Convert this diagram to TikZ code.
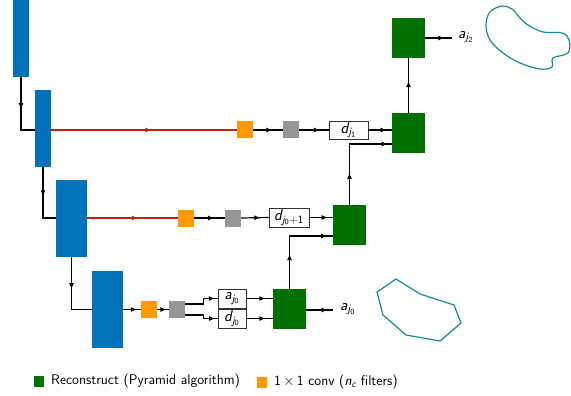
\documentclass[tikz,border=0pt]{standalone}
\usetikzlibrary{arrows.meta,decorations.markings,calc}
\renewcommand\familydefault{\sfdefault}
\newcommand{\wsub}[2]{{\slshape #1}\textsubscript{{\slshape j}\textsubscript{#2}}}
\definecolor{cblue}{RGB}{0,114,187}
\definecolor{corange}{RGB}{255,153,0}
\definecolor{cgray}{RGB}{150,150,150}
\definecolor{cgreen}{RGB}{0,112,0}
\definecolor{cred}{RGB}{196,32,16}
\definecolor{cteal}{RGB}{20,140,145}
\tikzset{
  bluebox/.style={fill=cblue,draw=none,inner sep=0pt},
  orbox/.style={fill=corange,draw=none,inner sep=0pt,minimum width=16,minimum height=17},
  grbox/.style={fill=cgray,draw=none,inner sep=0pt,minimum width=16,minimum height=17},
  gnbox/.style={fill=cgreen,draw=none,inner sep=0pt,minimum width=33,minimum height=40},
  coefbox/.style={draw=black!80,fill=white,line width=0.8pt,inner sep=0pt,minimum height=19,font=\fontsize{16}{18}\selectfont},
  lbl/.style={inner sep=0pt,anchor=west,font=\fontsize{14}{16}\selectfont},
  outlbl/.style={inner sep=0pt,anchor=west,font=\fontsize{16}{18}\selectfont},
  conn/.style={draw=black,line width=1.2pt},
  redconn/.style={draw=cred,line width=1.2pt},
  arrat/.style={postaction={decorate},decoration={markings,mark=at position #1 with {\arrow{Latex[length=6pt,width=5pt]}}}},
  arrtwo/.style 2 args={postaction={decorate},decoration={markings,
     mark=at position #1 with {\arrow{Latex[length=6pt,width=5pt]}},
     mark=at position #2 with {\arrow{Latex[length=6pt,width=5pt]}}}},
}
\begin{document}
\begin{tikzpicture}[x=1pt,y=-1pt]
\useasboundingbox (0,0) rectangle (571,396);
% encoder blocks
\node[bluebox,minimum width=16,minimum height=77] (b1) at (21,38.5) {};
\node[bluebox,minimum width=16,minimum height=77] (b2) at (43,128.5) {};
\node[bluebox,minimum width=31,minimum height=77] (b3) at (71.5,218.5) {};
\node[bluebox,minimum width=31,minimum height=77] (b4) at (107.5,309.5) {};
% 1x1 conv and gray
\node[orbox] (o1) at (245,130) {};
\node[grbox] (r1) at (291,130) {};
\node[orbox] (o2) at (186,218) {};
\node[grbox] (r2) at (233,218) {};
\node[orbox] (o3) at (149,309.5) {};
\node[grbox] (r3) at (177,309.5) {};
% coefficient boxes
\node[coefbox,minimum width=39,minimum height=18] (dj1) at (348.5,130) {\wsub{d}{1}};
\node[coefbox,minimum width=40] (djp) at (289,217.5) {{\slshape d}\textsubscript{{\slshape j}\textsubscript{0}+1}};
\node[coefbox,minimum width=28] (aj0) at (232,298.5) {\wsub{a}{0}};
\node[coefbox,minimum width=28] (dj0) at (232,318.5) {\wsub{d}{0}};
% reconstruct blocks
\node[gnbox] (g1) at (289.5,309) {};
\node[gnbox] (g2) at (349.5,225) {};
\node[gnbox] (g3) at (408.5,133) {};
\node[gnbox] (g4) at (408.5,38) {};
% output labels
\node[outlbl] (la0) at (340,309) {\wsub{a}{0}};
\node[outlbl] (la2) at (458,37) {\wsub{a}{2}};
% encoder connectors
\draw[conn,arrat=0.48] (b1.south) |- (b2.west |- o1);
\draw[conn,arrat=0.46] (b2.south) |- (b3.west |- o2);
\draw[conn,arrat=0.44] (b3.south) |- (b4.west |- o3);
% red skip lines
\draw[redconn,arrat=0.54] (b2.east |- o1) -- (o1.west);
\draw[redconn,arrat=0.56] (b3.east |- o2) -- (o2.west);
% row 1
\draw[conn,arrat=0.65] (o1.east) -- (r1.west);
\draw[conn,arrat=0.7] (r1.east) -- (dj1.west);
\draw[conn,arrat=0.78] (dj1.east) -- (dj1.east -| g3.west);
% row 2
\draw[conn,arrat=0.65] (o2.east) -- (r2.west);
\draw[conn,arrat=0.7] (r2.east) -- (djp.west);
\draw[conn,arrat=0.78] (djp.east) -- (djp.east -| g2.west);
% row 3
\draw[conn,arrat=0.78] (b4.east |- o3) -- (o3.west);
\draw[conn,arrat=0.8] (o3.east) -- (r3.west);
\draw[conn,arrat=0.93] ($(r3.east)+(0,-5.5)$) -- ++(18,0) |- (aj0.west);
\draw[conn,arrat=0.93] ($(r3.east)+(0,5.5)$) -- ++(18,0) |- (dj0.west);
\draw[conn,arrat=0.72] (aj0.east) -- (aj0.east -| g1.west);
\draw[conn,arrat=0.72] (dj0.east) -- (dj0.east -| g1.west);
% upward reconstruction
\draw[conn,arrat=0.8] (g1.east |- 0,310) -- (333,310);
\draw[conn,arrtwo={0.36}{0.94}] (g1.north) |- ($(g2.west)+(0,11)$);
\draw[conn,arrtwo={0.31}{0.96}] (g2.north) |- ($(g3.west)+(0,11)$);
\draw[conn,arrat=0.58] (g3.north) -- (g4.south);
\draw[conn,arrat=0.72] (g4.east) -- ($(la2.west)+(-6,1)$);
% shapes
\draw[cteal,line width=1.2pt] plot[smooth cycle,tension=0.6] coordinates {(486,25) (490,12) (502,6) (512,9) (520,18) (528,25) (543,32) (562,33) (569,40) (568,53) (553,58) (552,67) (540,69) (520,63) (503,53) (490,40)};
\draw[cteal,line width=1.2pt] (377,292) -- (396,279) -- (420,294) -- (454,305) -- (461,323) -- (440,341) -- (406,335) -- (383,315) -- cycle;
% legend
\node[fill=cgreen,inner sep=0pt,minimum width=10,minimum height=11] (lg1) at (39,381.5) {};
\node[lbl] (lt1) at (51,381.5) {Reconstruct (Pyramid algorithm)};
\node[fill=corange,inner sep=0pt,minimum width=10,minimum height=11] (lg2) at (262,382) {};
\node[lbl] (lt2) at (274,382) {1\,$\times$\,1 conv ({\slshape n}\textsubscript{\slshape c} filters)};
\end{tikzpicture}
\end{document}
